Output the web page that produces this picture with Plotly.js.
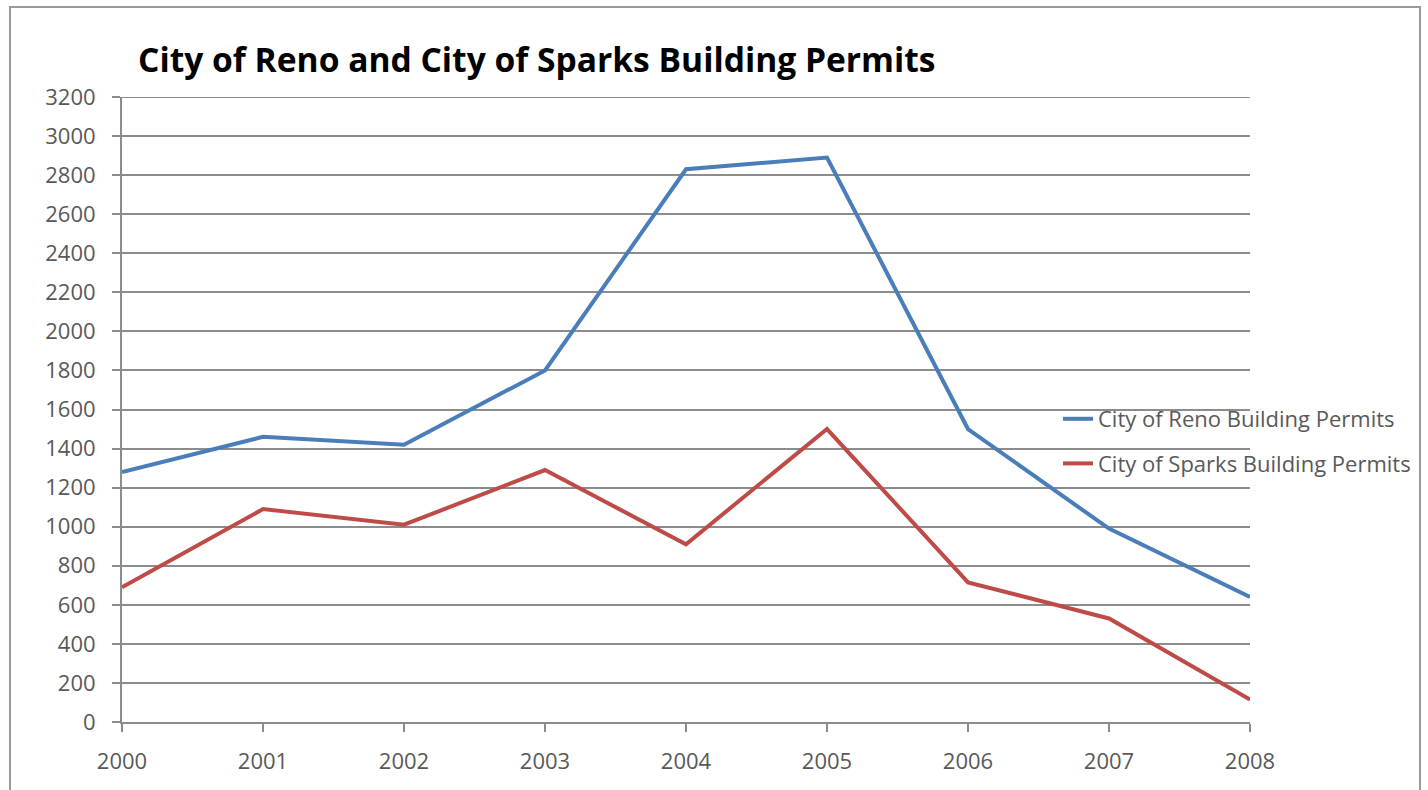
<!DOCTYPE html>
<html><head><meta charset="utf-8">
<script src="https://cdn.plot.ly/plotly-3.0.1.min.js"></script>
<style>html,body{margin:0;padding:0;background:#fff;}#c{width:1428px;height:790px;}</style>
</head><body><div id="c"></div>
<script>
const years = [2000, 2001, 2002, 2003, 2004, 2005, 2006, 2007, 2008];
const renoPermits = [1280, 1460, 1420, 1800, 2830, 2890, 1500, 990, 640];
const sparksPermits = [690, 1090, 1010, 1290, 910, 1500, 715, 530, 115];
const yTicks = [0,200,400,600,800,1000,1200,1400,1600,1800,2000,2200,2400,2600,2800,3000,3200];
const yMax = 3200;

const L = 122, R = 1250, T = 97, B = 722, W = 1428, H = 790;
const pw = R - L, ph = B - T;
function px(x){return (x - L)/pw;}
function py(y){return (B - y)/ph;}

const traces = [
  {x: years, y: renoPermits, type:'scatter', mode:'lines', name:'City of Reno Building Permits',
   legendgroup:'a', line:{color:'#4A7EBB', width:4}},
  {x: years, y: sparksPermits, type:'scatter', mode:'lines', name:'City of Sparks Building Permits',
   legendgroup:'b', line:{color:'#BE4B48', width:4}}
];
const layout = {
  width: W, height: H,
  margin:{l:L, r:W-R, t:T, b:H-B, pad:0},
  paper_bgcolor:'#fff', plot_bgcolor:'#fff',
  font:{family:'"Open Sans", "Liberation Sans", sans-serif', color:'#595959'},
  title:{text:'<b>City of Reno and City of Sparks Building Permits</b>', x:px(138), xref:'paper', xanchor:'left',
    y:1-60/H, yanchor:'middle', font:{size:33.6, color:'#000', family:'"Open Sans", sans-serif'}},
  xaxis:{type:'linear', range:[2000,2008], tickvals:years, ticktext:years.map(String),
    showgrid:false, zeroline:false, showline:true, linecolor:'#8c8c8c', linewidth:2,
    ticks:'outside', ticklen:8, tickcolor:'#8c8c8c', tickwidth:2, ticklabelstandoff:11,
    tickfont:{size:22, color:'#595959'}},
  yaxis:{range:[0,yMax], tickvals:yTicks, showgrid:true, gridcolor:'#8c8c8c', gridwidth:2,
    zeroline:false, showline:true, linecolor:'#8c8c8c', linewidth:2,
    ticks:'outside', ticklen:8, tickcolor:'#8c8c8c', tickwidth:2, ticklabelstandoff:12,
    tickfont:{size:22, color:'#595959'}},
  showlegend:true,
  legend:{x:px(1058), xanchor:'left', y:py(398), yanchor:'top', bgcolor:'rgba(0,0,0,0)',
    font:{size:22, color:'#595959'}, traceorder:'grouped', tracegroupgap:13, itemwidth:30},
  shapes:[
    {type:'rect', xref:'paper', yref:'paper', x0:px(10), x1:px(1420), y0:py(800), y1:py(7),
     line:{color:'#9a9a9a', width:2}, fillcolor:'rgba(0,0,0,0)', layer:'below'},
    {type:'line', xref:'paper', yref:'y', x0:0, x1:1, y0:yMax, y1:yMax,
     line:{color:'#8c8c8c', width:2}, layer:'below'}
  ]
};
Plotly.newPlot('c', traces, layout, {displayModeBar:false, staticPlot:true});
</script></body></html>
